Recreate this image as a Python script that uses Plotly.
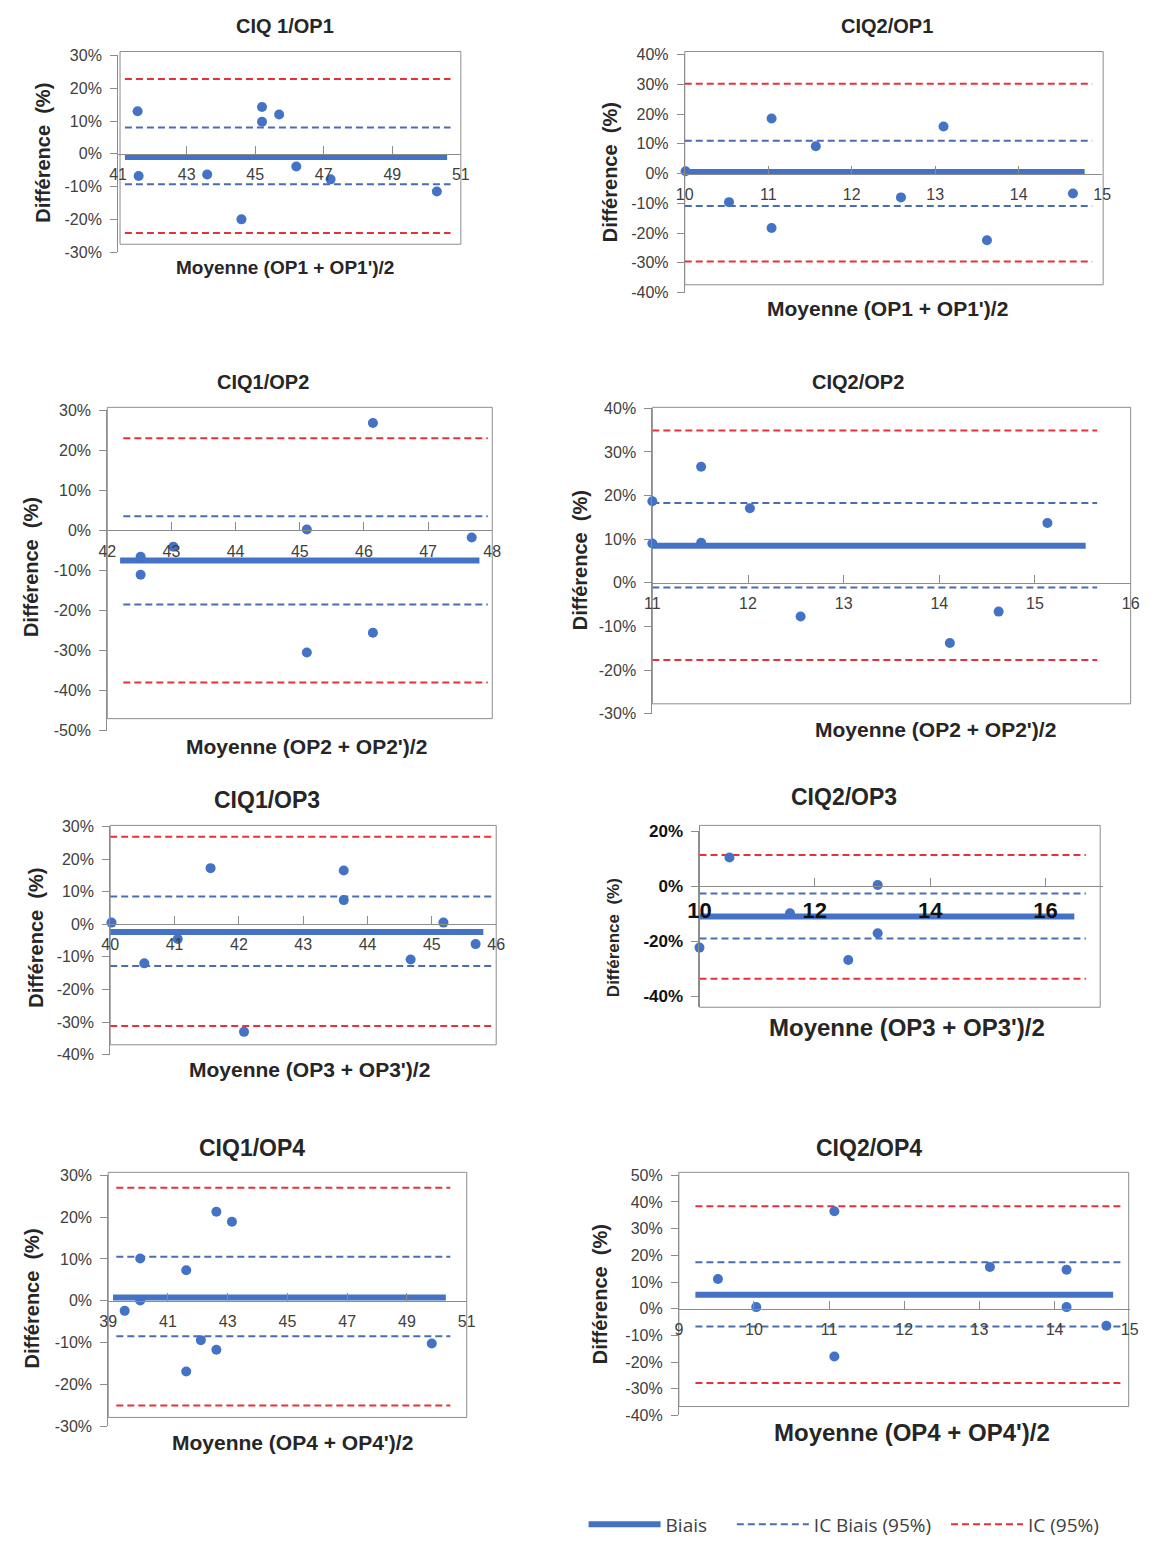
import plotly.graph_objects as go

W, H = 1175, 1548

# ---------------- DATA ----------------
panel_titles = ["CIQ 1/OP1", "CIQ2/OP1", "CIQ1/OP2", "CIQ2/OP2",
                "CIQ1/OP3", "CIQ2/OP3", "CIQ1/OP4", "CIQ2/OP4"]
x_titles = ["Moyenne (OP1 + OP1')/2", "Moyenne (OP1 + OP1')/2",
            "Moyenne (OP2 + OP2')/2", "Moyenne (OP2 + OP2')/2",
            "Moyenne (OP3 + OP3')/2", "Moyenne (OP3 + OP3')/2",
            "Moyenne (OP4 + OP4')/2", "Moyenne (OP4 + OP4')/2"]
y_title = "Différence\u00a0 (%)"
legend_names = ["Biais", "IC Biais (95%)", "IC (95%)"]

p1_x = [41.57, 41.6, 43.6, 44.6, 45.2, 45.2, 45.7, 46.2, 47.2, 50.3]
p1_y = [13, -6.8, -6.3, -20, 14.3, 9.8, 12, -3.9, -7.8, -11.5]
p2_x = [10.01, 10.53, 11.04, 11.04, 11.57, 12.59, 13.1, 13.62, 14.65]
p2_y = [0.8, -9.6, 18.5, -18.3, 9.2, -8, 15.8, -22.4, -6.7]
p3_x = [42.52, 42.52, 43.03, 45.11, 45.11, 46.14, 46.14, 47.68]
p3_y = [-6.6, -11.1, -4.1, 0.2, -30.5, 26.8, -25.6, -1.8]
p4_x = [11.0, 11.0, 11.51, 11.51, 12.02, 12.55, 14.11, 14.62, 15.13]
p4_y = [18.7, 9.0, 26.6, 9.2, 17.1, -7.7, -13.8, -6.6, 13.7]
p5_x = [40.02, 40.53, 41.05, 41.56, 42.08, 43.63, 43.63, 44.67, 45.18, 45.68]
p5_y = [0.5, -12, -4.5, 17.2, -33, 16.5, 7.4, -10.8, 0.5, -6.1]
p6_x = [10.52, 10.0, 11.57, 12.58, 13.09, 13.09]
p6_y = [10.5, -22.3, -9.8, -26.8, 0.5, -17.1]
p7_x = [39.55, 40.07, 40.07, 41.61, 41.61, 42.1, 42.62, 42.62, 43.14, 49.83]
p7_y = [-2.4, 10.1, 0.1, 7.3, -16.9, -9.4, 21.3, -11.7, 18.9, -10.2]
p8_x = [9.52, 10.03, 11.07, 11.07, 13.14, 14.16, 14.16, 14.69]
p8_y = [11.1, 0.6, 36.5, -17.9, 15.6, 14.6, 0.6, -6.4]

points_x = [p1_x, p2_x, p3_x, p4_x, p5_x, p6_x, p7_x, p8_x]
points_y = [p1_y, p2_y, p3_y, p4_y, p5_y, p6_y, p7_y, p8_y]

bias = [-1, 0.5, -7.5, 8.5, -2.4, -11, 0.8, 5.2]
ic_biais_hi = [8, 11, 3.5, 18.3, 8.5, -2.6, 10.5, 17.4]
ic_biais_lo = [-9.3, -10.9, -18.5, -1.1, -12.8, -19, -8.5, -6.7]
ic_hi = [22.8, 30.2, 23, 34.9, 26.8, 11.4, 27, 38.4]
ic_lo = [-24.2, -29.5, -38, -17.7, -31.2, -33.6, -25, -27.8]
bias_x0 = [41.2, 10, 42.2, 11, 40, 10, 39.16, 9.22]
bias_x1 = [50.6, 14.79, 47.8, 15.53, 45.8, 16.5, 50.3, 14.78]
ic_x0 = [41.2, 10, 42.25, 11, 40, 10, 39.27, 9.22]
ic_x1 = [50.7, 14.88, 47.93, 15.65, 45.96, 16.7, 50.45, 14.9]

x_ranges = [[41, 51], [10, 15], [42, 48], [11, 16], [40, 46], [10, 17], [39, 51], [9, 15]]
y_ranges = [[-30, 30], [-40, 40], [-50, 30], [-30, 40], [-40, 30], [-44, 20], [-30, 30], [-40, 50]]
x_dticks = [2, 1, 1, 1, 1, 2, 2, 1]
y_tickvals = [[-30, -20, -10, 0, 10, 20, 30],
              [-40, -30, -20, -10, 0, 10, 20, 30, 40],
              [-50, -40, -30, -20, -10, 0, 10, 20, 30],
              [-30, -20, -10, 0, 10, 20, 30, 40],
              [-40, -30, -20, -10, 0, 10, 20, 30],
              [-40, -20, 0, 20],
              [-30, -20, -10, 0, 10, 20, 30],
              [-40, -30, -20, -10, 0, 10, 20, 30, 40, 50]]

# ---------------- LAYOUT GEOMETRY (target pixels) ----------------
geom = [
    dict(ax=(108, 457), ay=(47, 246), box=(110, 457, 43, 238), title=(278, 17, 20), xt=(278, 262, 19), yt=(32, 145, 20)),
    dict(ax=(685, 1110), ay=(46, 287), box=(685, 1111, 43, 279), title=(891, 17, 20), xt=(891, 303, 21), yt=(609, 165, 20)),
    dict(ax=(97, 489), ay=(406, 730), box=(97, 489, 403, 718), title=(256, 377, 20), xt=(300, 746, 21), yt=(20, 565, 20)),
    dict(ax=(652, 1139), ay=(404, 713), box=(652, 1139, 403, 703), title=(861, 377, 20), xt=(940, 729, 21), yt=(578, 558, 20)),
    dict(ax=(100, 493), ay=(827, 1058), box=(100, 493, 826, 1048), title=(260, 800, 23), xt=(303, 1073, 21), yt=(24, 940, 20)),
    dict(ax=(700, 1111), ay=(832, 1010), box=(700, 1108, 826, 1010), title=(847, 797, 23), xt=(911, 1030, 24), yt=(612, 940, 17)),
    dict(ax=(98, 463), ay=(1180, 1434), box=(98, 463, 1177, 1425), title=(244, 1152, 23), xt=(286, 1450, 21), yt=(20, 1305, 20)),
    dict(ax=(679, 1138), ay=(1180, 1423), box=(679, 1137, 1177, 1414), title=(873, 1152, 23), xt=(916, 1440, 24), yt=(599, 1300, 20)),
]

BLUE = "#4472C4"
BLUE_D = "#4A6CB0"
RED = "#E8303A"
AXC = "#8C8C8C"
TXT = "#262626"
TICK = "#404040"
FONT = "Liberation Sans"
NBSP = "\u00a0"
legend_pad = [4, 2, 0]


def px(xp):
    return xp / W


def py(yp):
    return 1 - yp / H


fig = go.Figure()
annotations = []
shapes = []

for i in range(8):
    g = geom[i]
    n = "" if i == 0 else str(i + 1)
    xa, ya = "x" + n, "y" + n
    ymin, ymax = y_ranges[i]
    zero_px = g["ay"][0] + (ymax - 0) / (ymax - ymin) * (g["ay"][1] - g["ay"][0])

    big = (i == 5)
    fig.layout["xaxis" + n] = dict(
        domain=[px(g["ax"][0]), px(g["ax"][1])],
        range=x_ranges[i], dtick=x_dticks[i], tick0=x_ranges[i][0],
        anchor="free", position=py(zero_px), side="bottom",
        showline=True, linecolor=AXC, linewidth=1,
        ticks="inside", ticklen=8, tickcolor=AXC,
        showgrid=False, zeroline=False,
        tickfont=dict(family=FONT, size=22 if big else 16,
                      color="#111" if big else TICK,
                      weight="bold" if big else "normal"),
        ticklabelstandoff=4 if big else 6,
        fixedrange=True,
    )
    fig.layout["yaxis" + n] = dict(
        domain=[py(g["ay"][1]), py(g["ay"][0])],
        range=y_ranges[i],
        tickvals=y_tickvals[i], ticktext=["%d%%" % v for v in y_tickvals[i]],
        anchor=xa,
        showline=True, linecolor=AXC, linewidth=1,
        ticks="outside", ticklen=7, tickcolor=AXC,
        showgrid=False, zeroline=False,
        tickfont=dict(family=FONT, size=17 if big else 16,
                      color="#111" if big else TICK,
                      weight="bold" if big else "normal"),
        ticklabelstandoff=5,
        fixedrange=True,
    )

    bx0, bx1, by0, by1 = g["box"]
    shapes.append(dict(type="rect", xref="paper", yref="paper",
                       x0=px(bx0), x1=px(bx1), y0=py(by1), y1=py(by0),
                       line=dict(color=AXC, width=1), layer="below"))

    show = (i == 0)
    for k, v in enumerate([ic_hi[i], ic_lo[i]]):
        fig.add_trace(go.Scatter(
            x=[ic_x0[i], ic_x1[i]], y=[v, v], mode="lines", xaxis=xa, yaxis=ya,
            line=dict(color=RED, width=2, dash="7px,4px"),
            name=legend_names[2] + NBSP * legend_pad[2], legendgroup="ic", legendrank=3,
            showlegend=show and k == 0, hoverinfo="skip"))
    for k, v in enumerate([ic_biais_hi[i], ic_biais_lo[i]]):
        fig.add_trace(go.Scatter(
            x=[ic_x0[i], ic_x1[i]], y=[v, v], mode="lines", xaxis=xa, yaxis=ya,
            line=dict(color=BLUE_D, width=2, dash="7px,4px"),
            name=legend_names[1] + NBSP * legend_pad[1], legendgroup="icb", legendrank=2,
            showlegend=show and k == 0, hoverinfo="skip"))
    fig.add_trace(go.Scatter(
        x=[bias_x0[i], bias_x1[i]], y=[bias[i], bias[i]], mode="lines",
        xaxis=xa, yaxis=ya, line=dict(color=BLUE, width=6),
        name=legend_names[0] + NBSP * legend_pad[0], legendgroup="b", legendrank=1,
        showlegend=show, hoverinfo="skip"))
    fig.add_trace(go.Scatter(
        x=points_x[i], y=points_y[i], mode="markers", xaxis=xa, yaxis=ya,
        marker=dict(color=BLUE, size=10), showlegend=False, cliponaxis=False))

    tx, ty, ts = g["title"]
    annotations.append(dict(text="<b>" + panel_titles[i] + "</b>", x=px(tx), y=py(ty),
                            xref="paper", yref="paper", showarrow=False,
                            xanchor="center", yanchor="middle",
                            font=dict(family=FONT, size=ts, color=TXT)))
    xx, xy, xs = g["xt"]
    annotations.append(dict(text="<b>" + x_titles[i] + "</b>", x=px(xx), y=py(xy),
                            xref="paper", yref="paper", showarrow=False,
                            xanchor="center", yanchor="middle",
                            font=dict(family=FONT, size=xs, color=TXT)))
    yx, yy, ys = g["yt"]
    annotations.append(dict(text="<b>" + y_title + "</b>", x=px(yx), y=py(yy),
                            xref="paper", yref="paper", showarrow=False, textangle=-90,
                            xanchor="center", yanchor="middle",
                            font=dict(family=FONT, size=ys, color=TXT)))

fig.update_layout(
    width=W, height=H, autosize=False,
    margin=dict(l=0, r=0, t=0, b=0),
    paper_bgcolor="white", plot_bgcolor="white",
    annotations=annotations, shapes=shapes,
    showlegend=True,
    legend=dict(orientation="h", x=px(582), y=py(1514), xanchor="left", yanchor="top",
                font=dict(family="Open Sans", size=19, color=TICK),
                traceorder="normal", itemwidth=72, bgcolor="rgba(0,0,0,0)"),
)

fig.write_html("out.html", config={"displayModeBar": False},
               post_script="document.body.style.margin='0px';document.documentElement.style.overflow='hidden';")
